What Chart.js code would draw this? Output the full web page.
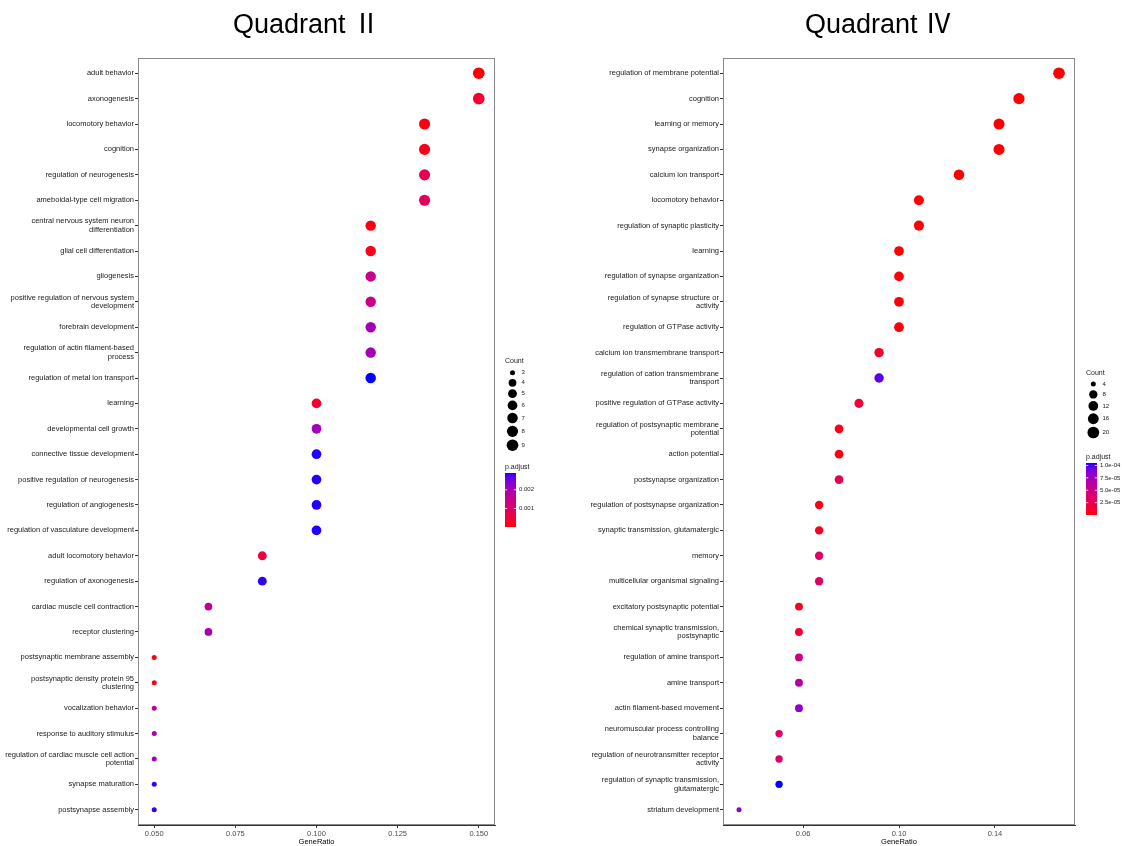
<!DOCTYPE html>
<html>
<head>
<meta charset="utf-8">
<script src="https://cdn.jsdelivr.net/npm/chart.js@4.4.1/dist/chart.umd.min.js"></script>
<style>
  html, body { margin: 0; padding: 0; background: #ffffff; }
  #figure { position: relative; width: 1122px; height: 846px; overflow: hidden; background: #fff; }
  #figure canvas { position: absolute; top: 0; }
  #q2 { left: 0; }
  #q4 { left: 561px; }
</style>
</head>
<body>
<div id="figure">
  <canvas id="q2" width="561" height="846"></canvas>
  <canvas id="q4" width="561" height="846"></canvas>
</div>
<script>
// ---------------- Quadrant II: GO enrichment ----------------
const q2Title = 'Quadrant \u2161';
const q2Terms = [
  'adult behavior', 'axonogenesis', 'locomotory behavior', 'cognition',
  'regulation of neurogenesis', 'ameboidal-type cell migration',
  'central nervous system neuron differentiation', 'glial cell differentiation',
  'gliogenesis', 'positive regulation of nervous system development',
  'forebrain development', 'regulation of actin filament-based process',
  'regulation of metal ion transport', 'learning', 'developmental cell growth',
  'connective tissue development', 'positive regulation of neurogenesis',
  'regulation of angiogenesis', 'regulation of vasculature development',
  'adult locomotory behavior', 'regulation of axonogenesis',
  'cardiac muscle cell contraction', 'receptor clustering',
  'postsynaptic membrane assembly', 'postsynaptic density protein 95 clustering',
  'vocalization behavior', 'response to auditory stimulus',
  'regulation of cardiac muscle cell action potential', 'synapse maturation',
  'postsynapse assembly'
];
const q2GeneRatio = [
  0.1500, 0.1500, 0.1333, 0.1333, 0.1333, 0.1333,
  0.1167, 0.1167, 0.1167, 0.1167, 0.1167, 0.1167, 0.1167,
  0.1000, 0.1000, 0.1000, 0.1000, 0.1000, 0.1000,
  0.0833, 0.0833, 0.0667, 0.0667,
  0.0500, 0.0500, 0.0500, 0.0500, 0.0500, 0.0500, 0.0500
];
const q2Count = [
  9, 9, 8, 8, 8, 8,
  7, 7, 7, 7, 7, 7, 7,
  6, 6, 6, 6, 6, 6,
  5, 5, 4, 4,
  3, 3, 3, 3, 3, 3, 3
];
const q2PAdjust = [
  1.0e-5, 3.6e-4, 9.7e-5, 1.5e-4, 7.3e-4, 8.2e-4,
  9.7e-5, 1.5e-4, 1.46e-3, 1.46e-3, 2.03e-3, 2.03e-3, 2.90e-3,
  3.6e-4, 2.09e-3, 2.87e-3, 2.87e-3, 2.87e-3, 2.87e-3,
  5.0e-4, 2.84e-3, 1.60e-3, 1.98e-3,
  9.7e-5, 1.5e-4, 1.60e-3, 1.98e-3, 2.03e-3, 2.84e-3, 2.84e-3
];
const q2XTicks = [0.050, 0.075, 0.100, 0.125, 0.150];
const q2XTickLabels = ['0.050', '0.075', '0.100', '0.125', '0.150'];
const q2SizeBreaks = [3, 4, 5, 6, 7, 8, 9];
const q2ColorBreaks = [0.001, 0.002];
const q2ColorBreakLabels = ['0.001', '0.002'];

// ---------------- Quadrant IV: GO enrichment ----------------
const q4Title = 'Quadrant \u2163';
const q4Terms = [
  'regulation of membrane potential', 'cognition', 'learning or memory',
  'synapse organization', 'calcium ion transport', 'locomotory behavior',
  'regulation of synaptic plasticity', 'learning', 'regulation of synapse organization',
  'regulation of synapse structure or activity', 'regulation of GTPase activity',
  'calcium ion transmembrane transport', 'regulation of cation transmembrane transport',
  'positive regulation of GTPase activity', 'regulation of postsynaptic membrane potential',
  'action potential', 'postsynapse organization', 'regulation of postsynapse organization',
  'synaptic transmission, glutamatergic', 'memory', 'multicellular organismal signaling',
  'excitatory postsynaptic potential', 'chemical synaptic transmission, postsynaptic',
  'regulation of amine transport', 'amine transport', 'actin filament-based movement',
  'neuromuscular process controlling balance',
  'regulation of neurotransmitter receptor activity',
  'regulation of synaptic transmission, glutamatergic', 'striatum development'
];
const q4GeneRatio = [
  0.1667, 0.1500, 0.1417, 0.1417, 0.1250, 0.1083, 0.1083,
  0.1000, 0.1000, 0.1000, 0.1000, 0.0917, 0.0917, 0.0833,
  0.0750, 0.0750, 0.0750, 0.0667, 0.0667, 0.0667, 0.0667,
  0.0583, 0.0583, 0.0583, 0.0583, 0.0583,
  0.0500, 0.0500, 0.0500, 0.0333
];
const q4Count = [
  20, 18, 17, 17, 15, 13, 13,
  12, 12, 12, 12, 11, 11, 10,
  9, 9, 9, 8, 8, 8, 8,
  7, 7, 7, 7, 7,
  6, 6, 6, 4
];
const q4PAdjust = [
  1.0e-10, 3.0e-9, 5.0e-9, 2.0e-8, 1.0e-7, 4.0e-7, 3.0e-7,
  6.0e-7, 8.0e-7, 9.0e-7, 1.2e-6, 1.4e-5, 9.7e-5, 1.5e-5,
  3.0e-6, 3.2e-6, 2.9e-5, 4.0e-6, 6.5e-6, 3.7e-5, 3.7e-5,
  8.5e-6, 1.3e-5, 5.0e-5, 6.5e-5, 8.4e-5,
  3.7e-5, 3.7e-5, 1.05e-4, 8.4e-5
];
const q4XTicks = [0.06, 0.10, 0.14];
const q4XTickLabels = ['0.06', '0.10', '0.14'];
const q4SizeBreaks = [4, 8, 12, 16, 20];
const q4ColorBreaks = [2.5e-5, 5.0e-5, 7.5e-5, 1.0e-4];
const q4ColorBreakLabels = ['2.5e-05', '5.0e-05', '7.5e-05', '1.0e-04'];

// ---------------- shared helpers ----------------
const FONT = '"Liberation Sans", Arial, Helvetica, sans-serif';
const TITLE_FONT = '"Liberation Sans", Arial, "Noto Sans CJK SC", sans-serif';
const LOW_COLOR = [255, 0, 0];   // small p.adjust
const HIGH_COLOR = [0, 0, 255];  // large p.adjust

function toLinear(c) { c /= 255; return c <= 0.04045 ? c / 12.92 : Math.pow((c + 0.055) / 1.055, 2.4); }
function toSrgb(v) {
  v = Math.min(1, Math.max(0, v));
  const s = v <= 0.0031308 ? 12.92 * v : 1.055 * Math.pow(v, 1 / 2.4) - 0.055;
  return Math.round(s * 255);
}
const WX = 0.95047, WY = 1.0, WZ = 1.08883;
function rgbToLab(rgb) {
  const r = toLinear(rgb[0]), g = toLinear(rgb[1]), b = toLinear(rgb[2]);
  const X = (0.4124564 * r + 0.3575761 * g + 0.1804375 * b) / WX;
  const Y = (0.2126729 * r + 0.7151522 * g + 0.0721750 * b) / WY;
  const Z = (0.0193339 * r + 0.1191920 * g + 0.9503041 * b) / WZ;
  const f = t => t > 216 / 24389 ? Math.cbrt(t) : (24389 / 27 * t + 16) / 116;
  const fx = f(X), fy = f(Y), fz = f(Z);
  return [116 * fy - 16, 500 * (fx - fy), 200 * (fy - fz)];
}
function labToRgb(lab) {
  const fy = (lab[0] + 16) / 116, fx = fy + lab[1] / 500, fz = fy - lab[2] / 200;
  const inv = t => t * t * t > 216 / 24389 ? t * t * t : (116 * t - 16) / (24389 / 27);
  const X = inv(fx) * WX, Y = inv(fy) * WY, Z = inv(fz) * WZ;
  const r = 3.2404542 * X - 1.5371385 * Y - 0.4985314 * Z;
  const g = -0.9692660 * X + 1.8760108 * Y + 0.0415560 * Z;
  const b = 0.0556434 * X - 0.2040259 * Y + 1.0572252 * Z;
  return [toSrgb(r), toSrgb(g), toSrgb(b)];
}
const LOW_LAB = rgbToLab(LOW_COLOR), HIGH_LAB = rgbToLab(HIGH_COLOR);
function gradientColor(t) {
  t = Math.min(1, Math.max(0, t));
  const lab = LOW_LAB.map((v, i) => v + (HIGH_LAB[i] - v) * t);
  const c = labToRgb(lab);
  return `rgb(${c[0]},${c[1]},${c[2]})`;
}
function wrapLabel(s, width) {
  const words = s.split(' ');
  const lines = [];
  let cur = '';
  for (const w of words) {
    if (!cur) cur = w;
    else if ((cur + ' ' + w).length <= width) cur += ' ' + w;
    else { lines.push(cur); cur = w; }
  }
  if (cur) lines.push(cur);
  return lines.length === 1 ? lines[0] : lines;
}
function radiusFor(count, cmin, cmax) {
  return 2.5 + 3.35 * Math.sqrt((count - cmin) / (cmax - cmin));
}

// Panel frame, title and the Count / p.adjust guides
const panelDecor = {
  id: 'panelDecor',
  beforeDatasetsDraw(chart, args, o) {
    const a = chart.chartArea, ctx = chart.ctx;
    ctx.save();
    ctx.strokeStyle = '#8a8a8a';
    ctx.lineWidth = 1;
    ctx.strokeRect(Math.round(a.left) + 0.5, Math.round(a.top) + 0.5,
      Math.round(a.right - a.left) - 1, Math.round(a.bottom - a.top) - 1);
    ctx.restore();
  },
  afterDraw(chart, args, o) {
    const ctx = chart.ctx;
    ctx.save();
    // title
    ctx.fillStyle = '#000';
    ctx.font = `27px ${TITLE_FONT}`;
    ctx.textAlign = 'left';
    ctx.textBaseline = 'alphabetic';
    ctx.fillText(o.title, o.titleX, o.titleY);

    // Count guide
    ctx.fillStyle = '#1a1a1a';
    ctx.font = `7px ${FONT}`;
    ctx.textBaseline = 'middle';
    ctx.fillText('Count', o.legendX, o.countTitleY);
    let y = o.countStartY;
    let prevH = null;
    o.sizeBreaks.forEach((c) => {
      const r = radiusFor(c, o.cmin, o.cmax);
      const h = Math.max(10, 2 * r + 2.5);
      if (prevH !== null) y += (prevH + h) / 2;
      prevH = h;
      ctx.beginPath();
      ctx.fillStyle = '#000';
      ctx.arc(o.dotX, y, r, 0, Math.PI * 2);
      ctx.fill();
      ctx.fillStyle = '#1a1a1a';
      ctx.font = `6px ${FONT}`;
      ctx.fillText(String(c), o.sizeLabelX, y);
    });

    // p.adjust colour bar
    ctx.font = `7px ${FONT}`;
    ctx.fillStyle = '#1a1a1a';
    ctx.fillText('p.adjust', o.legendX, o.pTitleY);
    const bx = o.legendX, by = o.barTop, bw = o.barW, bh = o.barH;
    const grad = ctx.createLinearGradient(0, by + bh, 0, by);
    for (let i = 0; i <= 80; i++) grad.addColorStop(i / 80, gradientColor(i / 80));
    ctx.fillStyle = grad;
    ctx.fillRect(bx, by, bw, bh);
    ctx.font = `6px ${FONT}`;
    o.colorBreaks.forEach((p, i) => {
      const t = (p - o.pmin) / (o.pmax - o.pmin);
      const ty = by + bh - t * bh;
      ctx.strokeStyle = '#ffffff';
      ctx.lineWidth = 0.8;
      ctx.beginPath();
      ctx.moveTo(bx, ty); ctx.lineTo(bx + 2.2, ty);
      ctx.moveTo(bx + bw - 2.2, ty); ctx.lineTo(bx + bw, ty);
      ctx.stroke();
      ctx.fillStyle = '#1a1a1a';
      ctx.fillText(o.colorBreakLabels[i], bx + bw + 3, ty);
    });
    ctx.restore();
  }
};

function makePanel(canvasId, d) {
  const n = d.terms.length;
  const xmin = Math.min(...d.ratio), xmax = Math.max(...d.ratio);
  const xpad = (xmax - xmin) * 0.05;
  const cmin = Math.min(...d.count), cmax = Math.max(...d.count);
  const pmin = Math.min(...d.padj), pmax = Math.max(...d.padj);
  const points = d.terms.map((t, i) => ({ x: d.ratio[i], y: i }));
  const colors = d.padj.map(p => gradientColor((p - pmin) / (pmax - pmin)));
  const radii = d.count.map(c => radiusFor(c, cmin, cmax));

  return new Chart(document.getElementById(canvasId), {
    type: 'scatter',
    data: {
      datasets: [{
        data: points,
        pointRadius: radii,
        pointHoverRadius: radii,
        pointBackgroundColor: colors,
        pointBorderWidth: 0,
        pointHoverBorderWidth: 0,
        pointBorderColor: colors
      }]
    },
    options: {
      responsive: false,
      animation: false,
      devicePixelRatio: 1,
      events: [],
      layout: { padding: { top: d.areaTop, right: d.padRight, bottom: 0, left: 0 } },
      plugins: {
        legend: { display: false },
        tooltip: { enabled: false },
        title: { display: false },
        panelDecor: {
          title: d.title, titleX: d.titleX, titleY: 33,
          legendX: d.legendX, dotX: d.dotX, sizeLabelX: d.sizeLabelX,
          countTitleY: d.countTitleY, countStartY: d.countStartY,
          pTitleY: d.pTitleY, barTop: d.barTop, barW: 11, barH: d.barH,
          sizeBreaks: d.sizeBreaks, cmin, cmax,
          colorBreaks: d.colorBreaks, colorBreakLabels: d.colorBreakLabels, pmin, pmax
        }
      },
      scales: {
        x: {
          type: 'linear',
          min: xmin - xpad,
          max: xmax + xpad,
          afterBuildTicks: (s) => { s.ticks = d.xTicks.map(v => ({ value: v })); },
          afterFit: (s) => { s.height = 21; },
          ticks: {
            font: { family: FONT, size: 7.5 },
            color: '#4d4d4d',
            padding: 1,
            maxRotation: 0,
            autoSkip: false,
            callback: (v, i) => d.xTickLabels[i]
          },
          grid: { display: true, drawOnChartArea: false, drawTicks: true, tickLength: 3, color: '#333333', lineWidth: 1 },
          border: { display: true, color: '#333333', width: 1 },
          title: {
            display: true, text: 'GeneRatio', color: '#000',
            font: { family: FONT, size: 7.5 }, padding: { top: 0, bottom: 0 }
          }
        },
        y: {
          type: 'linear',
          reverse: true,
          min: -0.6,
          max: n - 1 + 0.6,
          afterBuildTicks: (s) => { s.ticks = d.terms.map((_, i) => ({ value: i })); },
          afterFit: (s) => { s.width = d.axisLeft; },
          ticks: {
            font: { family: FONT, size: 7.5, lineHeight: 1.12 },
            color: '#1a1a1a',
            padding: 1,
            autoSkip: false,
            callback: (v) => wrapLabel(d.terms[v], 40)
          },
          grid: { display: true, drawOnChartArea: false, drawTicks: true, tickLength: 3, color: '#333333', lineWidth: 1 },
          border: { display: true, color: '#333333', width: 1 }
        }
      }
    },
    plugins: [panelDecor]
  });
}

makePanel('q2', {
  title: q2Title, titleX: 233,
  terms: q2Terms, ratio: q2GeneRatio, count: q2Count, padj: q2PAdjust,
  xTicks: q2XTicks, xTickLabels: q2XTickLabels,
  sizeBreaks: q2SizeBreaks, colorBreaks: q2ColorBreaks, colorBreakLabels: q2ColorBreakLabels,
  areaTop: 58, padRight: 66, axisLeft: 138,
  legendX: 505, dotX: 512.5, sizeLabelX: 521.5,
  countTitleY: 361, countStartY: 372.7, pTitleY: 467, barTop: 473, barH: 54
});

makePanel('q4', {
  title: q4Title, titleX: 244,
  terms: q4Terms, ratio: q4GeneRatio, count: q4Count, padj: q4PAdjust,
  xTicks: q4XTicks, xTickLabels: q4XTickLabels,
  sizeBreaks: q4SizeBreaks, colorBreaks: q4ColorBreaks, colorBreakLabels: q4ColorBreakLabels,
  areaTop: 58, padRight: 47, axisLeft: 162,
  legendX: 525, dotX: 532.3, sizeLabelX: 541.5,
  countTitleY: 373, countStartY: 384, pTitleY: 457, barTop: 463, barH: 52
});
</script>
</body>
</html>
